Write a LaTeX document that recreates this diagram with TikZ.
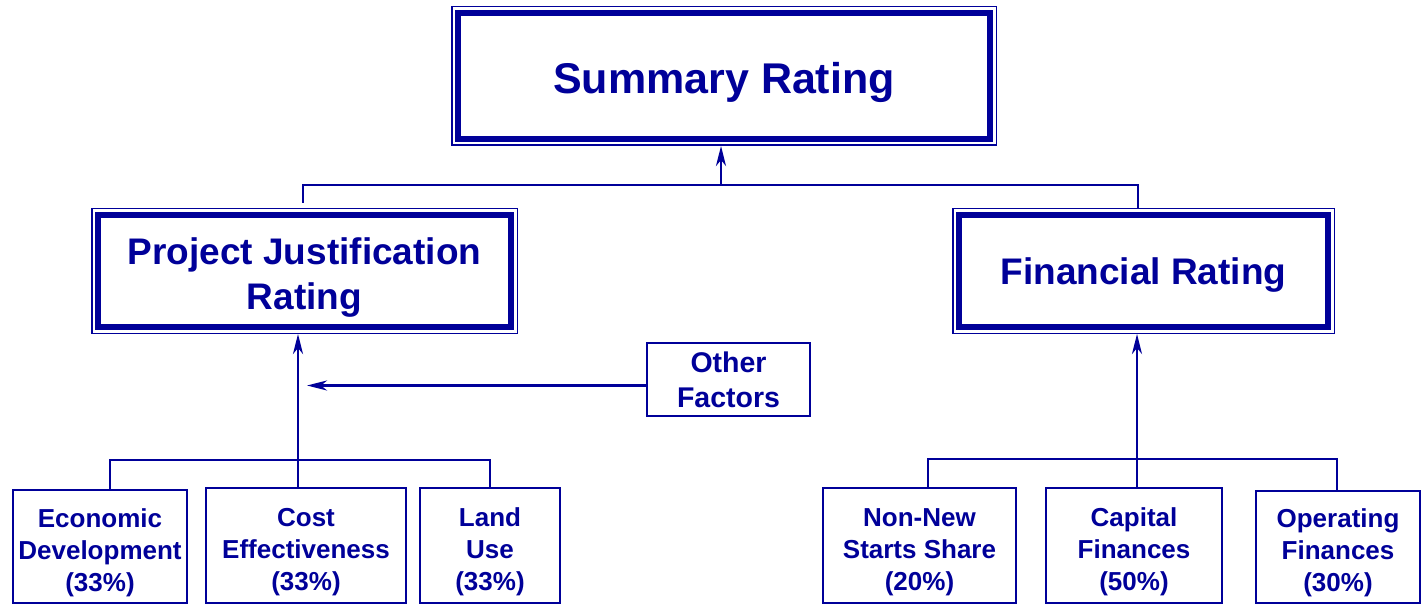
\documentclass[tikz,border=0pt]{standalone}
\usepackage{fontspec}
\setmainfont{Liberation Sans}
\usetikzlibrary{arrows.meta}
\definecolor{navy}{RGB}{0,0,153}
% invisible strut that lowers a node's text block
\newcommand\topstrut[1]{\rule{0pt}{#1}}
\begin{document}
\begin{tikzpicture}[x=1pt, y=-1pt,
  % framed rating box: thick inner border, thin outer border, white gap
  rating/.style={fill=white, draw=navy, line width=6.5pt, inner sep=0pt,
    outer sep=7pt, text=navy, align=center,
    preaction={draw=navy, line width=14pt},
    preaction={draw=white, line width=11pt}},
  leaf/.style={draw=navy, line width=2pt, inner sep=0pt, text=navy,
    align=center, font=\fontsize{26}{32}\selectfont\bfseries},
  conn/.style={draw=navy, line width=2.5pt},
  arr/.style={conn, -{Stealth[length=20pt, width=10pt, inset=6pt]}}]

\useasboundingbox (0,0) rectangle (1424,604);

% rating boxes
\node[rating, minimum width=532pt, minimum height=126pt,
  font=\fontsize{43}{50}\selectfont\bfseries] (sum) at (724,76)
  {\topstrut{43.5pt}Summary Rating};
\node[rating, minimum width=413pt, minimum height=112pt,
  font=\fontsize{37}{45}\selectfont\bfseries] (pj) at (304.5,271)
  {\topstrut{39pt}Project Justification\\Rating};
\node[rating, minimum width=369pt, minimum height=112pt,
  font=\fontsize{37}{45}\selectfont\bfseries] (fr) at (1143.5,271)
  {\topstrut{35pt}Financial Rating};

% other factors
\node[leaf, minimum width=163pt, minimum height=73pt,
  font=\fontsize{28.5}{35}\selectfont\bfseries] (of) at (728.5,379.5) {Other\\Factors};

% components
\node[leaf, minimum width=174pt, minimum height=113pt] (econ) at (100,546.5)
  {\topstrut{31pt}Economic\\Development\\(33\%)};
\node[leaf, minimum width=200pt, minimum height=115pt] (cost) at (306,545.5)
  {\topstrut{31pt}Cost\\Effectiveness\\(33\%)};
\node[leaf, minimum width=140pt, minimum height=115pt] (land) at (490,545.5)
  {\topstrut{31pt}Land\\Use\\(33\%)};
\node[leaf, minimum width=193pt, minimum height=115pt] (nn) at (919.5,545.5)
  {\topstrut{31pt}Non-New\\Starts Share\\(20\%)};
\node[leaf, minimum width=176pt, minimum height=115pt] (cap) at (1134,545.5)
  {\topstrut{31pt}Capital\\Finances\\(50\%)};
\node[leaf, minimum width=164pt, minimum height=112pt] (op) at (1338,547)
  {\topstrut{31pt}Operating\\Finances\\(30\%)};

% junction points
\coordinate (tl) at (303,185);
\coordinate (tm) at (721,185);
\coordinate (tr) at (1138,185);
\coordinate (lb1) at (110,460);
\coordinate (lj) at (298,460);
\coordinate (rb1) at (928,459);
\coordinate (rm) at (1137,459);
\coordinate (rb3) at (1337,459);

% top level
\draw[conn, shorten <=5pt] (pj.north -| tl) -- (tl) -- (tr) -- (fr.north -| tr);
\draw[arr] (tm) -- (tm |- sum.south);

% project justification branch
\draw[conn] (econ.north -| lb1) -- (lb1) -- (land.north |- lb1) -- (land.north);
\draw[conn] (cost.north -| lj) -- (lj);
\draw[arr] (lj) -- (lj |- pj.south);
\draw[arr, shorten >=9pt] ([yshift=-6pt]of.west) -- ([yshift=-6pt]of.west -| lj);

% financial branch
\draw[conn] (nn.north -| rb1) -- (rb1) -- (rb3) -- (op.north -| rb3);
\draw[arr] (cap.north -| rm) -- (rm |- fr.south);
\end{tikzpicture}
\end{document}
